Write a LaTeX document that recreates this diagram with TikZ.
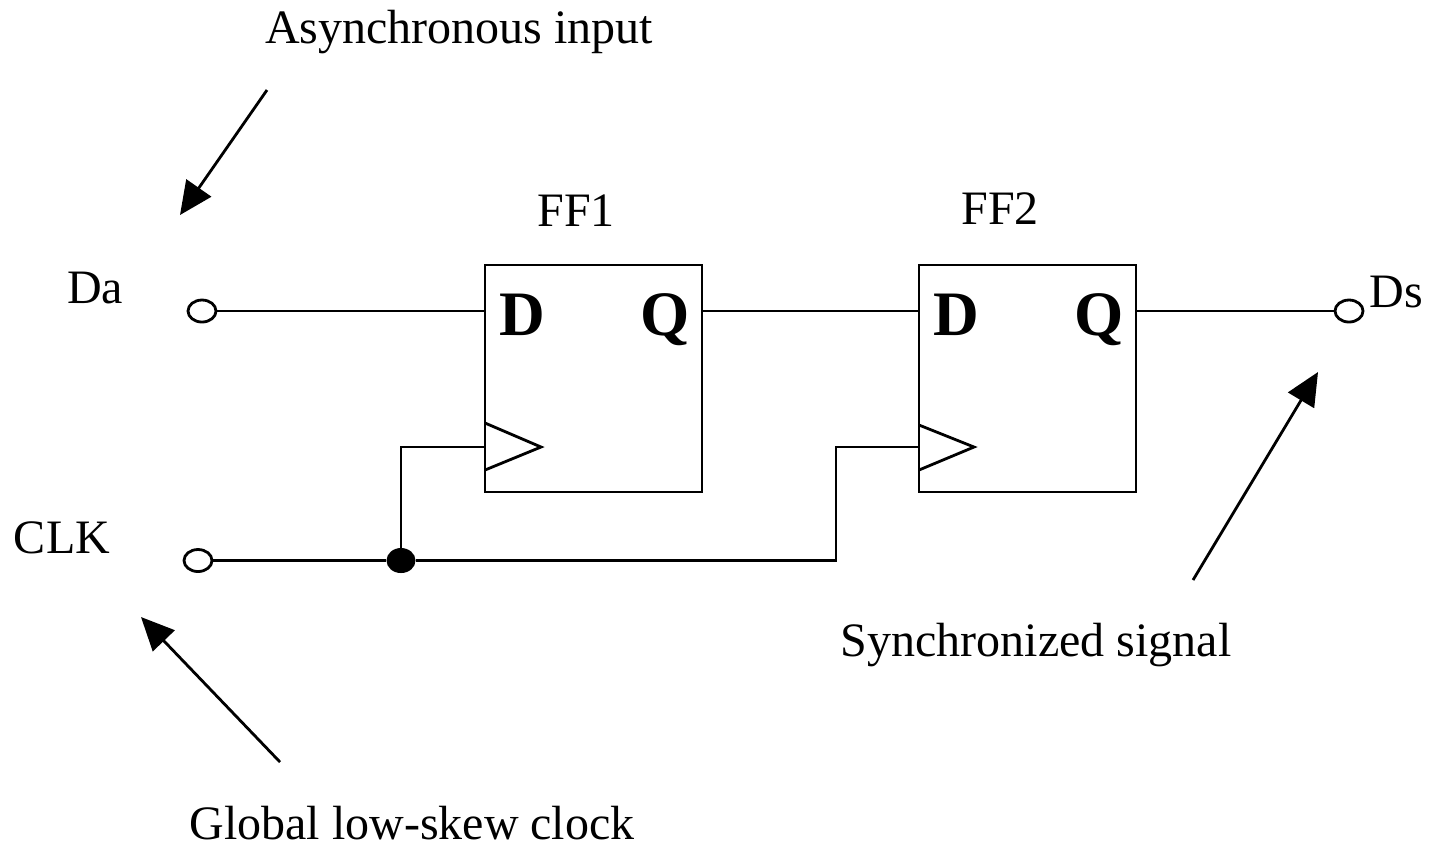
\documentclass[tikz,border=0pt]{standalone}
\usepackage{fontspec}
\setmainfont{Liberation Serif}
\usetikzlibrary{shapes.geometric,arrows.meta}
\begin{document}
\begin{tikzpicture}[x=0.01cm,y=-0.01cm,line width=0.28mm,
		every node/.style={inner sep=0pt, outer sep=0pt, font=\fontsize{13.65}{16}\selectfont},
		ffbox/.style={draw, minimum width=2.17cm, minimum height=2.27cm},
		port/.style={draw, ellipse, fill=white, minimum width=0.28cm, minimum height=0.22cm},
		dot/.style={ellipse, fill=black, minimum width=0.29cm, minimum height=0.25cm},
		pin/.style={font=\fontsize{18}{22}\selectfont\bfseries},
		note/.style={-{Stealth[inset=0pt,length=3.3mm,width=3mm]}}]
	\useasboundingbox (0,0) rectangle (1431,847);
	\node[ffbox] (ff1) at (593.5,378.5) {};
	\node[ffbox] (ff2) at (1027.5,378.5) {};
	\node (ff1label) at (576,211) {FF1};
	\node (ff2label) at (1000,209) {FF2};
	\node[pin] (d1) at (522,315) {D};
	\node[pin] (q1) at (665,320) {Q};
	\node[pin] (d2) at (956,315) {D};
	\node[pin] (q2) at (1099,320) {Q};
	\node[port] (da) at (202,311) {};
	\node[port] (ds) at (1349,311) {};
	\node[port] (clk) at (198,560.5) {};
	\node[dot] (join) at (401,560.5) {};
	\node (dalabel) at (95,288) {Da};
	\node (dslabel) at (1396,292) {Ds};
	\node (clklabel) at (62,538) {CLK};
	\node (asynclabel) at (459,32) {Asynchronous input};
	\node (synclabel) at (1036,645) {Synchronized signal};
	\node (globallabel) at (412,823) {Global low-skew clock};
	\coordinate (dpin1) at (ff1.west |- da);
	\coordinate (qpin1) at (ff1.east |- da);
	\coordinate (dpin2) at (ff2.west |- da);
	\coordinate (qpin2) at (ff2.east |- da);
	\coordinate (clk1) at (485,447);
	\coordinate (clk2) at (919,447);
	\draw (da) -- (dpin1);
	\draw (qpin1) -- (dpin2);
	\draw (qpin2) -- (ds);
	\draw (clk) -- (join);
	\draw (join) -- (join |- clk1) -- (clk1);
	\draw (join) -- (836,560.5) -- (836,447) -- (clk2);
	\draw (485,423) -- (541,447) -- (485,470);
	\draw (919,425) -- (974,447) -- (919,470);
	\coordinate (asyncfrom) at (267,90);
	\coordinate (asyncto) at (180,215);
	\coordinate (globalfrom) at (280,762);
	\coordinate (globalto) at (141,617);
	\coordinate (syncfrom) at (1193,580);
	\coordinate (syncto) at (1318,372);
	\draw[note] (asyncfrom) -- (asyncto);
	\draw[note] (globalfrom) -- (globalto);
	\draw[note] (syncfrom) -- (syncto);
\end{tikzpicture}
\end{document}
